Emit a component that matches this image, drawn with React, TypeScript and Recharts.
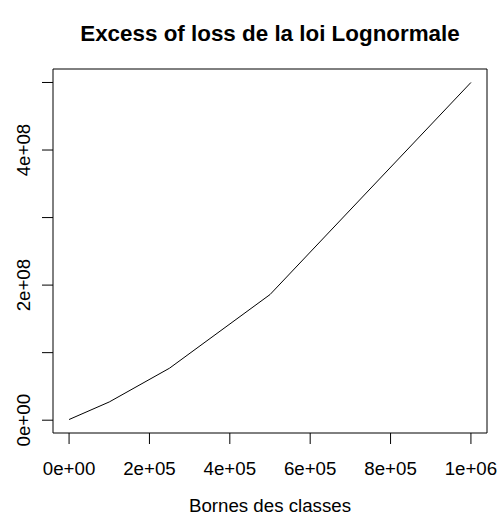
import React from "react";
import { LineChart, Line, XAxis, YAxis, ReferenceArea } from "recharts";

// Bornes des classes (x) et excess of loss (y)
const bornes = [0, 100000, 250000, 500000, 1000000];
const excessLoss = [1.0e6, 2.7e7, 7.7e7, 1.86e8, 5.0e8];

const xTicks = [0, 2e5, 4e5, 6e5, 8e5, 1e6];
const yTicks = [0, 1e8, 2e8, 3e8, 4e8, 5e8];
const yLabelled = [0, 2e8, 4e8];

const FONT = "'Liberation Sans', Arial, Helvetica, sans-serif";
const W = 499;
const H = 523;

// style R : 2e+05, 0e+00
const fmtSci = (v: number) => {
  if (v === 0) return "0e+00";
  const [m, e] = v.toExponential().split("e");
  return `${m}e${e[0]}${e.slice(1).padStart(2, "0")}`;
};

// étendue R par défaut (4 %)
const pad = (lo: number, hi: number) => {
  const ext = (hi - lo) * 0.04;
  return [lo - ext, hi + ext];
};

const xDom = pad(Math.min(...bornes), Math.max(...bornes));
const yDom = pad(Math.min(...excessLoss), Math.max(...excessLoss));

const data = bornes.map((b, i) => ({ x: b, y: excessLoss[i] }));

const YTick = ({ y, payload }: any) => {
  if (!yLabelled.includes(payload.value)) return null;
  return (
    <text
      x={30}
      y={y}
      textAnchor="middle"
      transform={`rotate(-90, 30, ${y})`}
      fontFamily={FONT}
      fontSize={18.7}
      fill="#000"
    >
      {fmtSci(payload.value)}
    </text>
  );
};

export default function App() {
  return (
    <div style={{ position: "absolute", left: 0, top: 0, width: W, height: H, background: "#fff" }}>
      <LineChart
        width={W}
        height={H}
        data={data}
        margin={{ top: 69, right: 12, bottom: 0, left: 0 }}
      >
        <XAxis
          dataKey="x"
          type="number"
          domain={xDom}
          ticks={xTicks}
          tickFormatter={fmtSci}
          height={90}
          axisLine={false}
          tickSize={11}
          tickMargin={18}
          tickLine={{ stroke: "#000" }}
          tick={{ fill: "#000", fontSize: 18.7, fontFamily: FONT }}
          interval={0}
          allowDataOverflow
        />
        <YAxis
          dataKey="y"
          type="number"
          domain={yDom}
          ticks={yTicks}
          width={53}
          axisLine={false}
          tickSize={11}
          tickLine={{ stroke: "#000" }}
          tick={<YTick />}
          interval={0}
          allowDataOverflow
        />
        <ReferenceArea
          x1={xDom[0]}
          x2={xDom[1]}
          y1={yDom[0]}
          y2={yDom[1]}
          fill="none"
          fillOpacity={0}
          stroke="#000"
          strokeWidth={1}
        />
        <Line
          type="linear"
          dataKey="y"
          stroke="#000"
          strokeWidth={1}
          dot={false}
          isAnimationActive={false}
        />
      </LineChart>
      <svg width={W} height={H} style={{ position: "absolute", left: 0, top: 0, pointerEvents: "none" }}>
        <text x={270} y={41} textAnchor="middle" fontFamily={FONT} fontWeight="bold" fontSize={22.4} fill="#000">
          Excess of loss de la loi Lognormale
        </text>
        <text x={270} y={512} textAnchor="middle" fontFamily={FONT} fontSize={18.7} fill="#000">
          Bornes des classes
        </text>
      </svg>
    </div>
  );
}
